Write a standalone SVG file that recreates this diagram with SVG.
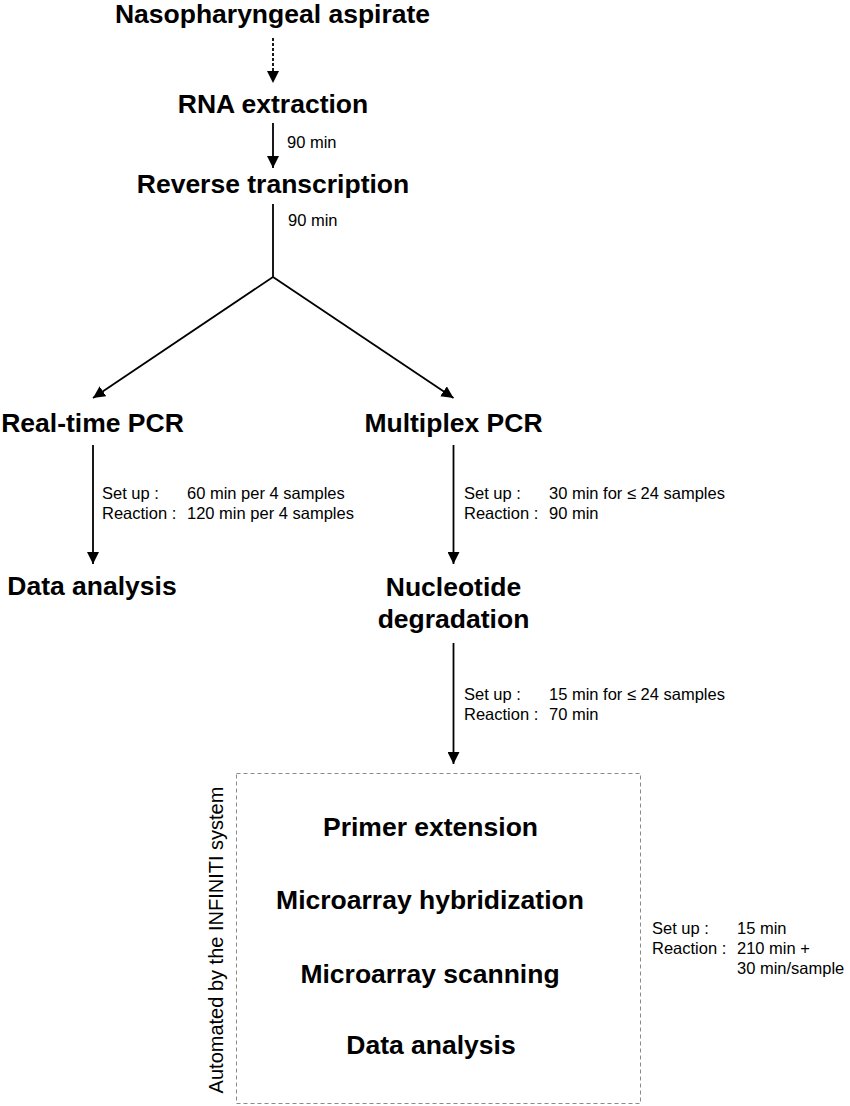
<svg xmlns="http://www.w3.org/2000/svg" width="850" height="1106" viewBox="0 0 850 1106">
<style>
.t{font-family:"Liberation Sans",Arial,sans-serif;font-weight:bold;font-size:26.5px;fill:#000;text-anchor:middle}
.s{font-family:"Liberation Sans",Arial,sans-serif;font-size:16.5px;fill:#000}
.r{font-family:"Liberation Sans",Arial,sans-serif;font-size:20px;fill:#000;text-anchor:middle}
.c{stroke:#000;stroke-width:1.8;fill:none}
</style>
<defs>
<marker id="ah" markerUnits="userSpaceOnUse" markerWidth="12" markerHeight="12" viewBox="0 0 11 11" refX="11" refY="5.5" orient="auto">
<path d="M0,0 L11,5.5 L0,11 z" fill="#000"/>
</marker>
</defs>
<rect width="850" height="1106" fill="#fff"/>
<g id="connectors">
<line class="c" x1="273" y1="38" x2="273" y2="83" stroke-dasharray="3,2" marker-end="url(#ah)"/>
<line class="c" x1="273" y1="123" x2="273" y2="168" marker-end="url(#ah)"/>
<line class="c" x1="273" y1="204" x2="273" y2="277"/>
<line class="c" x1="273" y1="277" x2="93" y2="398" marker-end="url(#ah)"/>
<line class="c" x1="273" y1="277" x2="453.5" y2="398" marker-end="url(#ah)"/>
<line class="c" x1="93" y1="445" x2="93" y2="564" marker-end="url(#ah)"/>
<line class="c" x1="453.5" y1="445" x2="453.5" y2="564" marker-end="url(#ah)"/>
<line class="c" x1="453.5" y1="643" x2="453.5" y2="764" marker-end="url(#ah)"/>
</g>
<g id="n-aspirate"><text class="t" x="272.5" y="23">Nasopharyngeal aspirate</text></g>
<g id="n-rna"><text class="t" x="273" y="113">RNA extraction</text></g>
<g id="l-rna"><text class="s" x="287" y="148">90 min</text></g>
<g id="n-rt"><text class="t" x="273" y="193">Reverse transcription</text></g>
<g id="l-rt"><text class="s" x="288" y="226">90 min</text></g>
<g id="n-realtime"><text class="t" x="92.5" y="432">Real-time PCR</text></g>
<g id="n-multiplex"><text class="t" x="453.5" y="432">Multiplex PCR</text></g>
<g id="l-realtime">
<text class="s" x="102" y="499">Set up :</text>
<text class="s" x="187" y="499">60 min per 4 samples</text>
<text class="s" x="102" y="519">Reaction :</text>
<text class="s" x="187" y="519">120 min per 4 samples</text>
</g>
<g id="l-multiplex">
<text class="s" x="464" y="499">Set up :</text>
<text class="s" x="549" y="499">30 min for ≤ 24 samples</text>
<text class="s" x="464" y="519">Reaction :</text>
<text class="s" x="549" y="519">90 min</text>
</g>
<g id="n-data1"><text class="t" x="92" y="595">Data analysis</text></g>
<g id="n-nucleotide">
<text class="t" x="453.5" y="596">Nucleotide</text>
<text class="t" x="453.5" y="628">degradation</text>
</g>
<g id="l-nucleotide">
<text class="s" x="464" y="700">Set up :</text>
<text class="s" x="549" y="700">15 min for ≤ 24 samples</text>
<text class="s" x="464" y="720">Reaction :</text>
<text class="s" x="549" y="720">70 min</text>
</g>
<g id="n-infiniti">
<rect x="236.5" y="773.5" width="404" height="330" fill="none" stroke="#8a8a8a" stroke-width="1" stroke-dasharray="4,3"/>
<text class="r" transform="translate(223,940) rotate(-90)">Automated by the INFINITI system</text>
<text class="t" x="430.5" y="836">Primer extension</text>
<text class="t" x="430" y="909">Microarray hybridization</text>
<text class="t" x="430" y="983">Microarray scanning</text>
<text class="t" x="431" y="1054">Data analysis</text>
</g>
<g id="l-infiniti">
<text class="s" x="652" y="934">Set up :</text>
<text class="s" x="737" y="934">15 min</text>
<text class="s" x="652" y="954">Reaction :</text>
<text class="s" x="737" y="954">210 min +</text>
<text class="s" x="737" y="974">30 min/sample</text>
</g>
</svg>
